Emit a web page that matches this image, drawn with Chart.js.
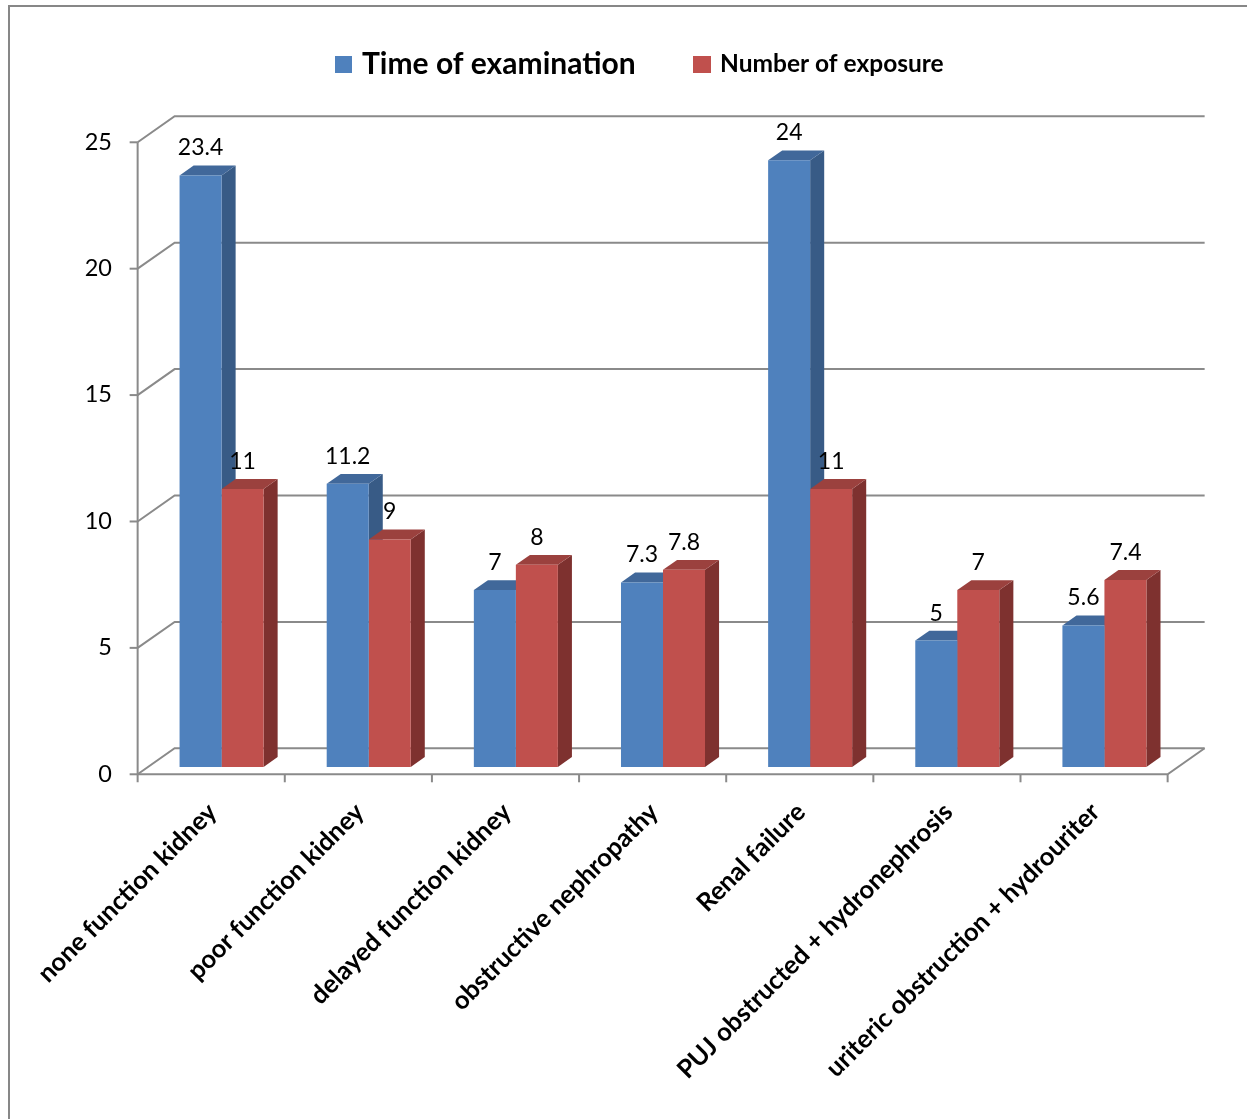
<!DOCTYPE html>
<html>
<head>
<meta charset="utf-8">
<script src="https://cdn.jsdelivr.net/npm/chart.js@4.4.1/dist/chart.umd.min.js"></script>
<style>
  html, body { margin: 0; padding: 0; background: #ffffff; }
  #wrap { width: 1247px; height: 1119px; position: relative; }
</style>
</head>
<body>
<div id="wrap"><canvas id="chart" width="1247" height="1119"></canvas></div>
<script>
// ---- data ----
const categories = [
  'none function kidney',
  'poor function kidney',
  'delayed function kidney',
  'obstructive nephropathy',
  'Renal failure',
  'PUJ obstructed + hydronephrosis',
  'uriteric obstruction + hydrouriter'
];
const timeOfExamination = [23.4, 11.2, 7, 7.3, 24, 5, 5.6];
const numberOfExposure  = [11, 9, 8, 7.8, 11, 7, 7.4];
const seriesNames = ['Time of examination', 'Number of exposure'];
const yTickValues = [0, 5, 10, 15, 20, 25];

// ---- look ----
const FONT = 'Lato, "Open Sans", "DejaVu Sans", sans-serif';
const faceColors = [
  { front: '#4f81bd', top: '#41689a', side: '#385b86' },
  { front: '#c0504d', top: '#9b413e', side: '#7e312f' }
];
const GRID = '#8a8a8a';
// full depth of the 3D box (screen offset from front edge to back wall)
const DEPTH_X = 37, DEPTH_Y = -26;
const PLANE = 0.28;      // depth of the bars' front faces
const BAR_BACK = 0.66;   // depth of the bars' back faces

function atDepth(px, py, d) {
  return { x: px + (d - PLANE) * DEPTH_X, y: py + (d - PLANE) * DEPTH_Y };
}

const box3d = {
  id: 'box3d',
  beforeDraw(chart) {
    const ctx = chart.ctx;
    ctx.save();
    ctx.strokeStyle = '#878787';
    ctx.lineWidth = 2;
    ctx.strokeRect(9, 6, 1400, 1400);
    ctx.restore();
  },
  beforeDatasetsDraw(chart) {
    const { ctx, chartArea: a, scales } = chart;
    const ys = scales.y;
    ctx.save();
    ctx.strokeStyle = GRID;
    ctx.lineWidth = 2;
    ctx.lineCap = 'butt';
    // back wall + side wall gridlines
    yTickValues.forEach(v => {
      const py = ys.getPixelForValue(v);
      const f = atDepth(a.left, py, 0), b = atDepth(a.left, py, 1), r = atDepth(a.right, py, 1);
      ctx.beginPath();
      ctx.moveTo(f.x, f.y); ctx.lineTo(b.x, b.y); ctx.lineTo(r.x, r.y);
      ctx.stroke();
      // tick mark on the front axis
      ctx.beginPath();
      ctx.moveTo(f.x - 8, f.y); ctx.lineTo(f.x, f.y);
      ctx.stroke();
    });
    // floor front and right edges
    const fl = atDepth(a.left, a.bottom, 0), fr = atDepth(a.right, a.bottom, 0), br = atDepth(a.right, a.bottom, 1);
    ctx.beginPath();
    ctx.moveTo(fl.x, fl.y); ctx.lineTo(fr.x, fr.y); ctx.lineTo(br.x, br.y);
    ctx.stroke();
    // vertical axis line
    const top = atDepth(a.left, ys.getPixelForValue(yTickValues[yTickValues.length - 1]), 0);
    ctx.beginPath();
    ctx.moveTo(top.x, top.y); ctx.lineTo(fl.x, fl.y + 8);
    ctx.stroke();
    // category boundary ticks
    const n = categories.length;
    for (let i = 1; i <= n; i++) {
      const p = atDepth(a.left + i * (a.right - a.left) / n, a.bottom, 0);
      ctx.beginPath();
      ctx.moveTo(p.x, p.y); ctx.lineTo(p.x, p.y + 8);
      ctx.stroke();
    }
    // bar tops and sides (front faces are drawn by the bar controller)
    const dx = (BAR_BACK - PLANE) * DEPTH_X, dy = (BAR_BACK - PLANE) * DEPTH_Y;
    for (let j = 0; j < n; j++) {
      for (let k = 0; k < chart.data.datasets.length; k++) {
        const el = chart.getDatasetMeta(k).data[j];
        const { x, y, base, width } = el.getProps(['x', 'y', 'base', 'width'], true);
        const l = x - width / 2, r = x + width / 2;
        ctx.fillStyle = faceColors[k].side;
        ctx.beginPath();
        ctx.moveTo(r, y); ctx.lineTo(r + dx, y + dy); ctx.lineTo(r + dx, base + dy); ctx.lineTo(r, base);
        ctx.closePath(); ctx.fill();
        ctx.fillStyle = faceColors[k].top;
        ctx.beginPath();
        ctx.moveTo(l, y); ctx.lineTo(r, y); ctx.lineTo(r + dx, y + dy); ctx.lineTo(l + dx, y + dy);
        ctx.closePath(); ctx.fill();
      }
    }
    ctx.restore();
  },
  afterDatasetsDraw(chart) {
    const ctx = chart.ctx;
    ctx.save();
    ctx.fillStyle = '#000';
    ctx.font = '23px ' + FONT;
    ctx.textAlign = 'center';
    ctx.textBaseline = 'alphabetic';
    chart.data.datasets.forEach((ds, k) => {
      chart.getDatasetMeta(k).data.forEach((el, j) => {
        const { x, y } = el.getProps(['x', 'y'], true);
        ctx.fillText(String(ds.data[j]), x, y - 20);
      });
    });
    ctx.restore();
  },
  afterDraw(chart) {
    const ctx = chart.ctx;
    ctx.save();
    ctx.textBaseline = 'middle';
    ctx.textAlign = 'left';
    // legend
    ctx.fillStyle = faceColors[0].front;
    ctx.fillRect(335, 56, 17, 17);
    ctx.fillStyle = '#000';
    ctx.font = 'bold 30px ' + FONT;
    ctx.fillText(seriesNames[0], 362, 64);
    ctx.fillStyle = faceColors[1].front;
    ctx.fillRect(693, 56, 18, 17);
    ctx.fillStyle = '#000';
    ctx.font = 'bold 24.5px ' + FONT;
    ctx.fillText(seriesNames[1], 720, 64);
    ctx.restore();
  }
};

new Chart(document.getElementById('chart'), {
  type: 'bar',
  data: {
    labels: categories,
    datasets: [
      { label: seriesNames[0], data: timeOfExamination, backgroundColor: faceColors[0].front, borderWidth: 0 },
      { label: seriesNames[1], data: numberOfExposure, backgroundColor: faceColors[1].front, borderWidth: 0 }
    ]
  },
  options: {
    responsive: false,
    devicePixelRatio: 1,
    animation: false,
    events: [],
    layout: { padding: { top: 135, right: 69, left: 0, bottom: 0 } },
    datasets: { bar: { categoryPercentage: 0.571, barPercentage: 1 } },
    plugins: { legend: { display: false }, tooltip: { enabled: false } },
    scales: {
      x: {
        grid: { display: false, drawTicks: false },
        border: { display: false },
        ticks: {
          autoSkip: false,
          minRotation: 45,
          maxRotation: 45,
          padding: 30,
          labelOffset: -9,
          color: '#000',
          font: { family: FONT, size: 25.5, weight: 'bold' }
        },
        afterFit: s => { s.height = 352; }
      },
      y: {
        min: 0,
        max: 25,
        grid: { display: false, drawTicks: false },
        border: { display: false },
        ticks: {
          stepSize: 5,
          padding: 36,
          labelOffset: 7,
          color: '#000',
          font: { family: FONT, size: 23.5 }
        },
        afterFit: s => { s.width = 148; }
      }
    }
  },
  plugins: [box3d]
});
</script>
</body>
</html>
